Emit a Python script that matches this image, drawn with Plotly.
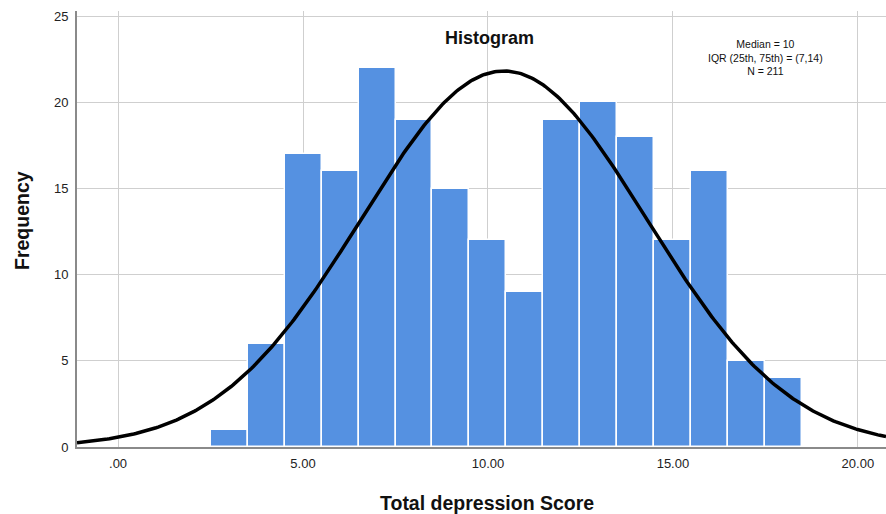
import numpy as np
import plotly.graph_objects as go

scores = [3, 4, 5, 6, 7, 8, 9, 10, 11, 12, 13, 14, 15, 16, 17, 18]
freqs = [1, 6, 17, 16, 22, 19, 15, 12, 9, 19, 20, 18, 12, 16, 5, 4]
x_ticks = [0, 5, 10, 15, 20]
x_tick_labels = [".00", "5.00", "10.00", "15.00", "20.00"]
y_ticks = [0, 5, 10, 15, 20, 25]

s = np.array(scores, dtype=float)
f = np.array(freqs, dtype=float)
n = f.sum()
mean = (s * f).sum() / n
sd = np.sqrt(((s - mean) ** 2 * f).sum() / (n - 1))
xr = [-1.11, 20.76]
xc = np.linspace(xr[0], xr[1], 400)
yc = n * 1.0 / (sd * np.sqrt(2 * np.pi)) * np.exp(-0.5 * ((xc - mean) / sd) ** 2)

W, H = 886, 514
L, R, T, B = 77, 0, 11, 67
pw, ph = W - L - R, H - T - B


def px(xp):
    return (xp - L) / pw


def py(yp):
    return 1 - (yp - T) / ph


fig = go.Figure()
fig.add_trace(go.Bar(x=scores, y=freqs, width=1.0,
                     marker=dict(color="#5591e1", line=dict(color="white", width=1.5)),
                     showlegend=False))
fig.add_trace(go.Scatter(x=xc, y=yc, mode="lines",
                         line=dict(color="black", width=3.5), showlegend=False))

common = dict(xref="paper", yref="paper", showarrow=False,
              xanchor="center", yanchor="middle")

fig.update_layout(
    width=W, height=H,
    margin=dict(l=L, r=R, t=T, b=B, autoexpand=False),
    paper_bgcolor="white", plot_bgcolor="white",
    font=dict(family="Liberation Sans, Arial, sans-serif", size=13, color="#222"),
    bargap=0,
    xaxis=dict(range=xr, tickvals=x_ticks, ticktext=x_tick_labels,
               showgrid=True, gridcolor="#cfcfcf", gridwidth=1,
               showline=True, linecolor="#8a8a8a", linewidth=2,
               ticks="outside", ticklen=3, tickcolor="rgba(0,0,0,0)",
               zeroline=False, automargin=False,
               tickfont=dict(size=13, color="#222")),
    yaxis=dict(range=[0, 25.3], tickvals=y_ticks,
               showgrid=True, gridcolor="#cfcfcf", gridwidth=1,
               showline=True, linecolor="#8a8a8a", linewidth=2,
               ticks="outside", ticklen=4, tickcolor="rgba(0,0,0,0)",
               zeroline=False, automargin=False,
               tickfont=dict(size=13, color="#222")),
    annotations=[
        dict(text="<b>Histogram</b>", x=px(490), y=py(38),
             font=dict(size=18, color="#111"), **common),
        dict(text="Median = 10<br>IQR (25th, 75th) = (7,14)<br>N = 211",
             x=px(765), y=py(58), font=dict(size=10.5, color="#111"), **common),
        dict(text="<b>Frequency</b>", x=px(22), y=py(220), textangle=-90,
             font=dict(size=19.5, color="#111"), **common),
        dict(text="<b>Total depression Score</b>", x=px(487), y=py(503),
             font=dict(size=19.5, color="#111"), **common),
    ],
)

fig.write_html("out.html", config={"displayModeBar": False},
               post_script="document.body.style.margin='0';document.body.style.overflow='hidden';")
